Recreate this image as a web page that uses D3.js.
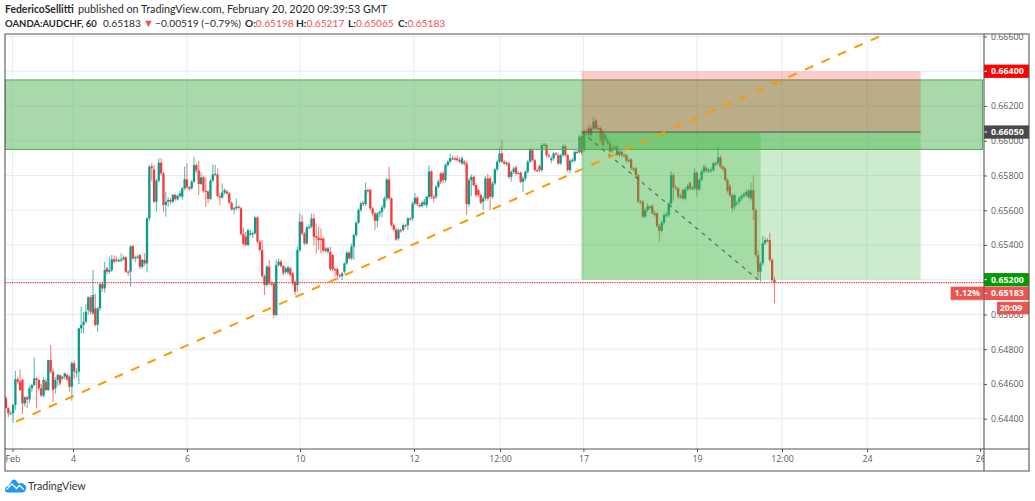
<!DOCTYPE html>
<html>
<head>
<meta charset="utf-8">
<script src="https://cdn.jsdelivr.net/npm/d3@7"></script>
<style>
  html, body { margin: 0; background: #fff; }
  svg { display: block; }
  text { font-family: "Open Sans", "Noto Sans", sans-serif; }
  text.head { font-family: Lato, "Open Sans", sans-serif; }
</style>
</head>
<body>
<svg id="chart" width="1035" height="501"></svg>
<script>
// hourly AUDCHF candles, price in 1e-5 units
const opens = [
  64517,64460,64431,64431,64479,64627,64613,64623,64488,64523,
  64511,64575,64594,64632,64623,64575,64533,64613,64565,64738,
  64671,64575,64623,64651,64632,64642,64651,64642,64584,64719,
  64671,64671,64920,64940,64959,65026,65099,65007,65035,64940,
  65035,65175,65150,65266,65246,65256,65317,65317,65308,65312,
  65317,65329,65246,65246,65394,65323,65329,65342,65275,65314,
  65294,65553,65851,65835,65649,65770,65874,65812,65630,65649,
  65659,65649,65688,65663,65682,65678,65726,65778,65732,65726,
  65764,65860,65828,65751,65789,65712,65707,65665,65770,65806,
  65806,65682,65674,65701,65707,65697,65643,65605,65611,65620,
  65611,65463,65448,65400,65463,65463,65467,65559,65419,65371,
  65221,65170,65275,65179,65179,64997,65285,65304,65279,65245,
  65241,65265,65236,65188,65169,65371,65534,65466,65409,65501,
  65505,65553,65451,65443,65437,65438,65380,65361,65361,65342,
  65261,65261,65227,65221,65246,65294,65355,65323,65390,65457,
  65528,65601,65643,65635,65716,65716,65610,65581,65539,65581,
  65591,65616,65668,65777,65668,65514,65489,65438,65486,65486,
  65514,65514,65553,65553,65639,65672,65630,65624,65635,65629,
  65677,65823,65677,65677,65735,65812,65812,65773,65860,65879,
  65898,65898,65898,65888,65869,65879,65869,65635,65773,65792,
  65745,65716,65687,65649,65668,65783,65783,65677,65754,65835,
  65879,65927,65879,65869,65869,65792,65821,65846,65812,65816,
  65764,65783,65821,65879,65946,65888,65831,65854,65831,65975,
  65975,65917,65888,65898,65927,65917,65869,65917,65969,65917,
  65831,65885,65885,65936,65936,66027,65946,66052,66071,66033,
  66071,66115,66071,66071,66048,66004,66004,65985,65942,65956,
  65966,65918,65937,65918,65918,65885,65893,65841,65841,65802,
  65649,65649,65563,65601,65620,65624,65582,65582,65509,65482,
  65528,65572,65572,65639,65802,65731,65726,65678,65716,65668,
  65720,65758,65726,65726,65816,65720,65774,65822,65841,65827,
  65827,65831,65870,65870,65904,65850,65841,65774,65739,65687,
  65620,65640,65649,65668,65682,65687,65712,65668,65716,65601,
  65342,65246,65294,65409,65428,65428,65313,65198
];
const highs = [
  64531,64465,64445,64485,64674,64640,64684,64630,64530,64530,
  64590,64600,64753,64640,64630,64600,64640,64630,64738,64824,
  64690,64640,64660,64655,64645,64665,64660,64650,64730,64735,
  64690,64925,65045,65016,65060,65105,65110,65256,65120,65045,
  65180,65185,65304,65275,65333,65342,65340,65335,65325,65352,
  65340,65335,65255,65400,65400,65340,65345,65350,65320,65352,
  65560,65860,65870,65860,65780,65899,65899,65820,65707,65675,
  65670,65695,65695,65690,65710,65735,65851,65870,65740,65775,
  65908,65870,65885,65818,65800,65789,65715,65780,65866,65860,
  65841,65695,65755,65725,65720,65705,65650,65620,65668,65630,
  65620,65501,65475,65495,65486,65478,65565,65565,65430,65429,
  65230,65285,65314,65190,65185,65317,65320,65315,65285,65275,
  65280,65275,65245,65195,65390,65581,65572,65475,65510,65520,
  65581,65581,65524,65505,65495,65445,65390,65390,65390,65350,
  65270,65270,65235,65245,65300,65365,65365,65409,65465,65535,
  65610,65650,65655,65760,65725,65725,65620,65590,65590,65600,
  65630,65680,65785,65850,65675,65525,65500,65495,65495,65525,
  65520,65560,65560,65650,65700,65680,65640,65655,65665,65685,
  65860,65830,65690,65745,65775,65820,65825,65870,65890,65927,
  65915,65910,65915,65905,65910,65890,65880,65785,65805,65800,
  65755,65725,65695,65680,65795,65812,65795,65765,65845,65890,
  65965,66007,65890,65885,65880,65830,65850,65855,65825,65825,
  65795,65830,65890,65960,65955,65895,65840,65865,65985,65990,
  65985,65925,65910,65935,65935,65930,65925,65980,65978,65925,
  65895,65900,65945,65945,66035,66040,66065,66065,66090,66085,
  66138,66125,66090,66080,66060,66045,66015,65995,65970,65975,
  65975,65950,65945,65930,65925,65900,65900,65850,65850,65810,
  65660,65660,65610,65640,65630,65635,65595,65590,65520,65540,
  65585,65590,65650,65825,65815,65745,65735,65695,65725,65730,
  65750,65765,65740,65841,65825,65785,65835,65865,65855,65845,
  65850,65880,65880,65966,65915,65860,65850,65785,65750,65695,
  65695,65655,65680,65695,65705,65720,65725,65758,65802,65610,
  65371,65305,65451,65445,65440,65471,65325,65217
];
const lows = [
  64460,64408,64425,64377,64450,64600,64560,64427,64470,64460,
  64490,64555,64585,64460,64560,64525,64520,64560,64560,64660,
  64498,64545,64590,64590,64620,64625,64615,64556,64504,64630,
  64640,64600,64892,64892,64950,65000,65000,64995,64930,64901,
  65020,65131,65125,65230,65235,65245,65295,65300,65300,65300,
  65310,65240,65221,65160,65315,65300,65320,65260,65265,65280,
  65243,65540,65770,65640,65592,65760,65800,65592,65563,65620,
  65635,65640,65655,65655,65670,65659,65715,65725,65710,65718,
  65755,65815,65688,65745,65700,65620,65640,65655,65760,65795,
  65672,65630,65665,65690,65690,65635,65597,65578,65600,65605,
  65455,65400,65392,65392,65450,65440,65460,65410,65362,65212,
  65112,65160,65170,65165,64978,64990,65275,65270,65225,65235,
  65230,65215,65165,65112,65131,65360,65455,65400,65400,65490,
  65495,65399,65351,65371,65351,65360,65355,65350,65250,65250,
  65217,65198,65210,65198,65235,65285,65315,65315,65313,65445,
  65520,65590,65625,65625,65700,65600,65570,65486,65500,65560,
  65560,65605,65655,65660,65505,65475,65425,65425,65470,65478,
  65500,65486,65540,65540,65630,65625,65615,65615,65625,65610,
  65665,65665,65643,65665,65725,65750,65755,65760,65850,65870,
  65890,65885,65880,65870,65860,65855,65572,65620,65680,65735,
  65675,65675,65635,65601,65655,65655,65601,65665,65745,65825,
  65870,65870,65860,65855,65780,65764,65810,65800,65805,65755,
  65706,65770,65810,65870,65880,65820,65820,65820,65820,65965,
  65905,65900,65870,65885,65915,65860,65860,65905,65905,65820,
  65812,65875,65875,65925,65925,65918,65935,66030,66020,66020,
  66060,66060,66060,65990,65965,65995,65975,65925,65930,65945,
  65910,65905,65905,65905,65875,65875,65830,65825,65790,65640,
  65635,65555,65555,65590,65605,65575,65560,65500,65419,65470,
  65515,65560,65560,65625,65655,65715,65665,65665,65660,65655,
  65710,65715,65715,65715,65678,65710,65765,65810,65815,65815,
  65815,65820,65855,65860,65840,65825,65765,65700,65675,65591,
  65600,65625,65635,65655,65670,65675,65665,65655,65544,65330,
  65208,65189,65280,65400,65415,65300,65185,65064
];
const closes = [
  64460,64431,64431,64479,64627,64613,64565,64488,64523,64511,
  64575,64594,64632,64623,64575,64533,64623,64565,64738,64671,
  64565,64623,64651,64604,64642,64661,64627,64584,64719,64671,
  64671,64920,64940,64958,65016,65099,65016,65112,64940,65035,
  65175,65150,65256,65246,65256,65317,65304,65308,65312,65317,
  65329,65246,65240,65390,65323,65329,65333,65275,65314,65294,
  65553,65851,65841,65649,65770,65874,65812,65630,65649,65659,
  65649,65688,65663,65682,65697,65726,65778,65732,65722,65764,
  65860,65828,65751,65789,65712,65707,65665,65770,65806,65810,
  65682,65674,65701,65716,65697,65643,65605,65611,65620,65615,
  65463,65406,65400,65486,65468,65468,65559,65419,65371,65221,
  65170,65275,65179,65175,64997,65285,65304,65279,65237,65265,
  65271,65227,65179,65131,65371,65534,65466,65409,65501,65505,
  65553,65447,65443,65428,65428,65367,65367,65380,65261,65261,
  65258,65227,65222,65236,65294,65355,65323,65390,65457,65528,
  65601,65639,65635,65716,65712,65610,65581,65539,65581,65591,
  65616,65668,65777,65668,65514,65489,65432,65486,65480,65514,
  65510,65553,65548,65639,65672,65635,65626,65643,65649,65677,
  65823,65677,65668,65735,65764,65764,65773,65860,65879,65898,
  65900,65895,65888,65879,65898,65869,65635,65773,65792,65745,
  65687,65687,65643,65668,65783,65668,65677,65754,65835,65879,
  65927,65879,65869,65873,65792,65821,65840,65812,65815,65764,
  65783,65821,65879,65946,65888,65831,65828,65831,65975,65978,
  65917,65914,65898,65927,65924,65869,65917,65969,65917,65831,
  65885,65888,65936,65933,66023,65931,66052,66042,66033,66071,
  66109,66071,66074,66004,65975,66033,65985,65937,65956,65962,
  65918,65937,65918,65915,65885,65888,65841,65838,65802,65649,
  65646,65563,65601,65624,65617,65582,65572,65509,65482,65528,
  65572,65575,65639,65802,65731,65726,65678,65680,65668,65720,
  65739,65726,65729,65816,65720,65774,65822,65850,65827,65830,
  65835,65870,65867,65904,65850,65837,65774,65712,65687,65611,
  65687,65643,65668,65682,65693,65707,65674,65716,65601,65342,
  65246,65294,65409,65428,65425,65313,65198,65183
];

const priceTicks = [64400, 64600, 64800, 65000, 65200, 65400, 65600, 65800, 66000, 66200, 66400, 66600];
const timeTickLabels = ["Feb", "4", "6", "10", "12", "12:00", "17", "19", "12:00", "24", "26"];
const timeTickBars = [2.77, 28.5, 77, 125.1, 173.6, 210.2, 245.7, 294, 330.2, 366.4, 414.5];

// drawings on the chart, x in bar numbers, y in price
const zonePrices = [66350, 65950];
const positionBars = [244.9, 321.1, 389.2];
const positionPrices = [66400, 66050, 65200];
const trendBars = [4.26, 373.6];
const trendPrices = [64383, 66612];
const pathBars = [245, 320];
const pathPrices = [66050, 65200];
const lastPrice = 65183;

const tagLabels = ["0.66400", "0.66050", "0.65200", "0.65183"];
const tagPrices = [66400, 66050, 65200, 65183];
const tagColors = ["#ff0000", "#4a4a4a", "#009900", "#ef5350"];

const ohlcKeys = ["O:", "H:", "L:", "C:"];
const ohlcValues = ["0.65198", "0.65217", "0.65065", "0.65183"];

const UP = "#0b9a8c", DOWN = "#f23c3c", GRID = "#e3edf3", FRAME = "#555";
const plotLeft = 5, plotRight = 984, plotTop = 34, plotBottom = 449, outerRight = 1029, outerBottom = 471;
const tagHeight = 13.3, labelFont = 8.8;

const svg = d3.select("#chart");
const x = d3.scaleLinear().domain([0, closes.length - 1]).range([6, 774.5]);
const y = d3.scaleLinear().domain([64400, 66600]).range([418.7, 36.5]);

const defs = svg.append("defs");
defs.append("clipPath").attr("id", "plot").append("rect")
  .attr("x", plotLeft).attr("y", plotTop).attr("width", plotRight - plotLeft).attr("height", plotBottom - plotTop);
defs.append("clipPath").attr("id", "timeClip").append("rect")
  .attr("x", plotLeft).attr("y", plotBottom).attr("width", plotRight - plotLeft).attr("height", outerBottom - plotBottom);
defs.append("clipPath").attr("id", "priceClip").append("rect")
  .attr("x", plotRight).attr("y", plotTop).attr("width", outerRight - plotRight).attr("height", outerBottom - plotTop);

const plot = svg.append("g").attr("clip-path", "url(#plot)");

// grid
plot.selectAll(".hgrid").data(priceTicks).join("line").attr("class", "hgrid")
  .attr("x1", plotLeft).attr("x2", plotRight)
  .attr("y1", d => y(d)).attr("y2", d => y(d))
  .attr("stroke", GRID).attr("stroke-width", 1);
plot.selectAll(".vgrid").data(timeTickBars).join("line").attr("class", "vgrid")
  .attr("x1", d => x(d)).attr("x2", d => x(d))
  .attr("y1", plotTop).attr("y2", plotBottom)
  .attr("stroke", GRID).attr("stroke-width", 1);

// candles
const candles = d3.range(closes.length);
const color = i => closes[i] >= opens[i] ? UP : DOWN;
plot.append("g").selectAll("line").data(candles).join("line")
  .attr("x1", i => x(i)).attr("x2", i => x(i))
  .attr("y1", i => y(highs[i])).attr("y2", i => y(lows[i]))
  .attr("stroke", color).attr("stroke-width", 1.1).attr("stroke-opacity", 0.65);
plot.append("g").selectAll("rect").data(candles).join("rect")
  .attr("x", i => x(i) - 1.15).attr("width", 2.3)
  .attr("y", i => y(Math.max(opens[i], closes[i])))
  .attr("height", i => Math.max(1.2, Math.abs(y(opens[i]) - y(closes[i]))))
  .attr("fill", color);

// last price line
plot.append("line")
  .attr("x1", plotLeft).attr("x2", plotRight)
  .attr("y1", y(lastPrice)).attr("y2", y(lastPrice))
  .attr("stroke", "#f04040").attr("stroke-width", 1.2).attr("stroke-dasharray", "1.3 1");

// supply zone
plot.append("rect")
  .attr("x", plotLeft).attr("width", plotRight - 1.5 - plotLeft)
  .attr("y", y(zonePrices[0])).attr("height", y(zonePrices[1]) - y(zonePrices[0]))
  .attr("fill", "rgba(76,175,80,0.48)").attr("stroke", "#4caf50").attr("stroke-width", 1);

// short position tool
const [posStart, posHit, posEnd] = positionBars.map(x);
const [stopY, entryY, targetY] = positionPrices.map(y);
plot.append("rect").attr("x", posStart).attr("width", posEnd - posStart)
  .attr("y", stopY).attr("height", entryY - stopY).attr("fill", "rgba(255,0,0,0.2)");
plot.append("rect").attr("x", posStart).attr("width", posEnd - posStart)
  .attr("y", entryY).attr("height", targetY - entryY).attr("fill", "rgba(60,180,60,0.26)");
plot.append("rect").attr("x", posStart).attr("width", posHit - posStart)
  .attr("y", entryY).attr("height", targetY - entryY).attr("fill", "rgba(60,180,60,0.28)");
plot.append("line").attr("x1", posStart).attr("x2", posEnd)
  .attr("y1", entryY).attr("y2", entryY).attr("stroke", "#555").attr("stroke-width", 1);

// trend line and trade path
plot.append("line")
  .attr("x1", x(pathBars[0])).attr("x2", x(pathBars[1]))
  .attr("y1", y(pathPrices[0])).attr("y2", y(pathPrices[1]))
  .attr("stroke", "#5d6b5d").attr("stroke-width", 1.2).attr("stroke-dasharray", "4 4.7");
plot.append("line")
  .attr("x1", x(trendBars[0])).attr("x2", x(trendBars[1]))
  .attr("y1", y(trendPrices[0])).attr("y2", y(trendPrices[1]))
  .attr("stroke", "#ff9800").attr("stroke-width", 2).attr("stroke-dasharray", "9 9");

// axes
const priceAxis = d3.axisRight(y).tickValues(priceTicks).tickSize(3)
  .tickFormat(d => (d / 1e5).toFixed(5));
const priceG = svg.append("g").attr("clip-path", "url(#priceClip)")
  .append("g").attr("transform", `translate(${plotRight},0)`).call(priceAxis);
const timeAxis = d3.axisBottom(x).tickValues(timeTickBars).tickSize(3)
  .tickFormat((d, i) => timeTickLabels[i]);
const timeG = svg.append("g").attr("clip-path", "url(#timeClip)")
  .append("g").attr("transform", `translate(0,${plotBottom})`).call(timeAxis);
[priceG, timeG].forEach(g => {
  g.select(".domain").remove();
  g.selectAll("line").attr("stroke", FRAME);
  g.selectAll("text").attr("fill", "#5a5a5a").attr("font-size", labelFont).attr("font-family", "Open Sans");
});
priceG.selectAll("text").attr("x", 7);
timeG.selectAll("text").attr("y", 7);

// price tags; the last price tag is pushed below the target tag
const tags = svg.append("g");
const tagCenter = i => y(tagPrices[i]) + (i === 3 ? 10.7 : 0);
tagLabels.forEach((label, i) => {
  const cy = tagCenter(i);
  tags.append("rect").attr("x", plotRight).attr("y", cy - tagHeight / 2)
    .attr("width", outerRight - plotRight).attr("height", tagHeight).attr("fill", tagColors[i]);
  tags.append("line").attr("x1", plotRight).attr("x2", plotRight + 3).attr("y1", cy).attr("y2", cy)
    .attr("stroke", "#fff");
  tags.append("text").attr("x", plotRight + 7).attr("y", cy).attr("dy", "0.34em")
    .attr("fill", "#fff").attr("font-size", labelFont).attr("font-weight", 700).text(label);
});
// percentage and countdown boxes beside the last price
const lastY = tagCenter(3);
tags.append("rect").attr("x", 950.7).attr("y", lastY - tagHeight / 2).attr("width", plotRight - 950.7).attr("height", tagHeight)
  .attr("fill", "#ef5350").attr("stroke", "#f8b5b3").attr("stroke-width", 0.6);
tags.append("text").attr("x", 980).attr("y", lastY).attr("dy", "0.34em").attr("text-anchor", "end")
  .attr("fill", "#fff").attr("font-size", labelFont).attr("font-weight", 700).text("1.12%");
tags.append("rect").attr("x", 997).attr("y", lastY + 8.4).attr("width", outerRight - 997).attr("height", 12.6)
  .attr("fill", "#ef5350");
tags.append("text").attr("x", 1011).attr("y", lastY + 14.7).attr("dy", "0.34em").attr("text-anchor", "middle")
  .attr("fill", "#fff").attr("font-size", labelFont).attr("font-weight", 700).text("20:09");

// frame
svg.append("path")
  .attr("d", `M${plotLeft},${plotTop}H${outerRight}V${outerBottom}H${plotLeft}Z M${plotRight},${plotTop}V${outerBottom} M${plotLeft},${plotBottom}H${outerRight}`)
  .attr("fill", "none").attr("stroke", FRAME).attr("stroke-width", 1.1);

// header
const head1 = svg.append("text").attr("class", "head").attr("x", 5).attr("y", 13).attr("font-size", 10.8).attr("fill", "#2a2a2a");
head1.append("tspan").attr("font-weight", 700).attr("font-size", 10.4).text("FedericoSellitti");
head1.append("tspan").attr("x", 78).text("published on TradingView.com, February 20, 2020 09:39:53 GMT");
const head2 = svg.append("text").attr("class", "head").attr("x", 5).attr("y", 27).attr("font-size", 10.2).attr("fill", "#2a2a2a");
head2.append("tspan").attr("font-weight", 700).attr("font-size", 9.5).text("OANDA:AUDCHF, 60");
head2.append("tspan").attr("x", 103).text("0.65183");
head2.append("tspan").attr("x", 143).attr("fill", "#ef5350").attr("font-size", 11).text("▼");
head2.append("tspan").attr("x", 155).text("−0.00519 (−0.79%)");
ohlcKeys.forEach((k, i) => {
  head2.append("tspan").attr("x", [245, 296, 348, 398][i]).attr("font-weight", 700).text(k);
  head2.append("tspan").attr("fill", "#ef5350").text(ohlcValues[i]);
});

// TradingView logo
const logo = svg.append("g").attr("transform", "translate(5,479)");
logo.append("path")
  .attr("d", "M0,11 C0,8 2,7 3.5,7 L7,1.5 C8,0 10,0 11,1.5 L14,5 C15,3.5 18,3.5 19,5.5 C21,6 21.5,8 21,10 C20.5,12.5 19,13.5 17,13.5 L3,13.5 C1,13.5 0,12.5 0,11Z")
  .attr("fill", "#2196f3");
logo.append("path").attr("d", "M1.5,10.5 L7,5 L11.5,9.5 L14.5,6.5 L19,10.5")
  .attr("fill", "none").attr("stroke", "#fff").attr("stroke-width", 1.3);
svg.append("text").attr("class", "head").attr("x", 28).attr("y", 490).attr("font-size", 10.7).attr("fill", "#333").text("TradingView");
</script>
</body>
</html>
